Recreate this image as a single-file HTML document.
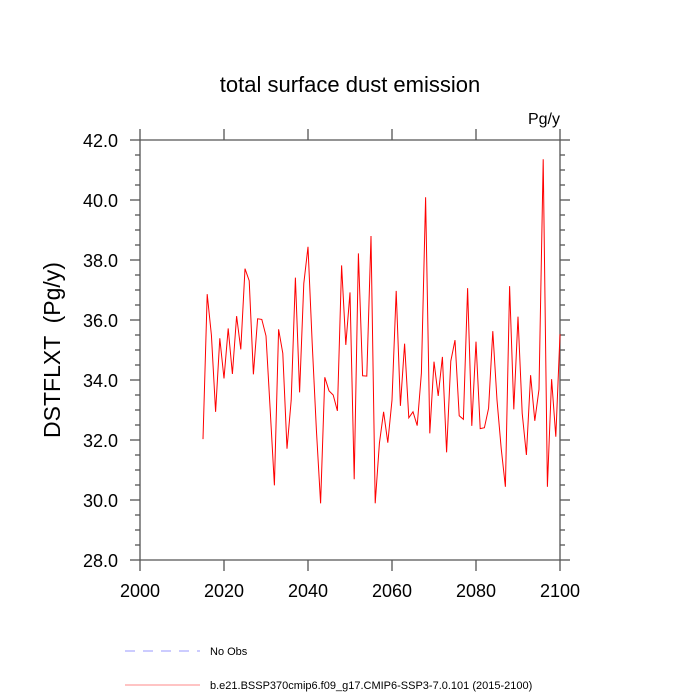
<!DOCTYPE html>
<html><head><meta charset="utf-8"><style>body{margin:0;background:#fff}svg{display:block;font-family:"Liberation Sans",sans-serif}</style></head>
<body>
<svg id="chart" width="700" height="700" viewBox="0 0 700 700">
<text x="350" y="92" font-size="22" text-anchor="middle">total surface dust emission</text>
<text x="560" y="124" font-size="16" text-anchor="end">Pg/y</text>
<text transform="translate(60,350) rotate(-90)" font-size="23" text-anchor="middle" style="white-space:pre">DSTFLXT  (Pg/y)</text>
<g id="axes"></g>
<polyline id="series" fill="none" stroke="#f00" stroke-width="1"/>
<line x1="125" y1="651" x2="200" y2="651" stroke="#99f" stroke-dasharray="10,8"/>
<text x="210" y="655" font-size="11">No Obs</text>
<line x1="125" y1="685" x2="200" y2="685" stroke="#f88"/>
<text x="210" y="689" font-size="11">b.e21.BSSP370cmip6.f09_g17.CMIP6-SSP3-7.0.101 (2015-2100)</text>
</svg>
<script>
const startYear = 2015;
const values = [32.03,36.86,35.5,32.94,35.39,34.05,35.72,34.2,36.13,35.02,37.71,37.31,34.19,36.04,36.02,35.47,33.0,30.49,35.69,34.89,31.71,33.33,37.41,33.59,37.22,38.44,35.22,32.33,29.89,34.09,33.64,33.5,32.97,37.82,35.17,36.92,30.69,38.22,34.14,34.13,38.8,29.89,31.89,32.94,31.91,33.33,36.97,33.14,35.21,32.74,32.94,32.48,34.23,40.09,32.22,34.61,33.47,34.77,31.59,34.63,35.33,32.81,32.69,37.06,32.47,35.28,32.38,32.41,33.06,35.63,33.33,31.72,30.44,37.13,33.02,36.11,32.89,31.5,34.16,32.64,33.69,41.36,30.44,34.03,32.11,35.53];
const xTicks = [2000,2020,2040,2060,2080,2100];
const yTicks = [28,30,32,34,36,38,40,42];
const X0=140,X1=560,Y0=560,Y1=140;
const xs = v => X0+(v-2000)/100*(X1-X0);
const ys = v => Y0-(v-28)/14*(Y0-Y1);
const NS="http://www.w3.org/2000/svg";
const g=document.getElementById('axes');
function ln(x1,y1,x2,y2,name){const l=document.createElementNS(NS,'line');
l.setAttribute('x1',x1);l.setAttribute('y1',y1);l.setAttribute('x2',x2);l.setAttribute('y2',y2);
l.setAttribute('stroke','#555');l.setAttribute('stroke-width','1.3');


g.appendChild(l);}
function tx(x,y,s,anchor,name){const t=document.createElementNS(NS,'text');
t.setAttribute('x',x);t.setAttribute('y',y);t.setAttribute('font-size','18');t.setAttribute('text-anchor',anchor);t.textContent=s;


g.appendChild(t);}
ln(X0,Y0,X1,Y0,'x-axis');ln(X0,Y1,X1,Y1,'top-axis');ln(X0,Y0,X0,Y1,'y-axis');ln(X1,Y0,X1,Y1,'right-axis');
xTicks.forEach(v=>{const x=xs(v);ln(x,Y0,x,Y0+11,'x-tick');ln(x,Y1,x,Y1-11,'top-tick');tx(x,Y0+37,String(v),'middle','x-tick-label');});
yTicks.forEach(v=>{const y=ys(v);ln(X0,y,X0-10,y,'y-tick');ln(X1,y,X1+10,y,'right-tick');tx(X0-22,y+7,v.toFixed(1),'end','y-tick-label');});
for(let v=28.5;v<42;v+=0.5){if(v%2===0)continue;const y=ys(v);ln(X0,y,X0-5,y,'y-minor-tick');ln(X1,y,X1+5,y,'right-minor-tick');}
document.getElementById('series').setAttribute('points',values.map((v,i)=>xs(startYear+i)+','+ys(v)).join(' '));
</script>
</body></html>
